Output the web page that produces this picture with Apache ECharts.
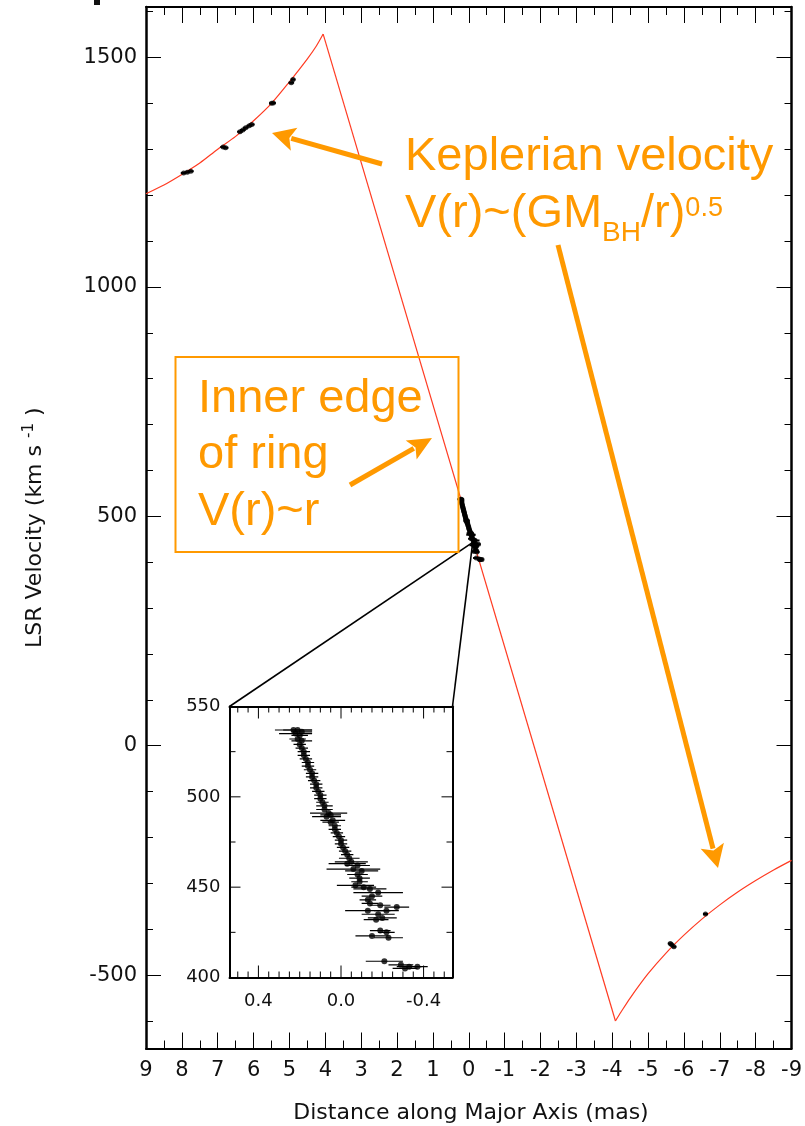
<!DOCTYPE html>
<html><head><meta charset="utf-8">
<script src="https://cdn.jsdelivr.net/npm/echarts@6/dist/echarts.min.js"></script>
<style>html,body{margin:0;padding:0;background:#fff}#c{width:805px;height:1126px}</style>
</head><body><div id="c"></div>
<script>
// ---------- data ----------
const leftX  = [9, 8.5, 8, 7.5, 7, 6.5, 6, 5.5, 5, 4.5, 4.25, 4.06];
const leftV  = [1203, 1222, 1245, 1270, 1300, 1328, 1362, 1400, 1447, 1497, 1525, 1551];
const innerX = [4.06, -4.09];
const innerV = [1551, -600];
const rightX = [-4.09, -4.25, -4.5, -5, -5.5, -6, -6.5, -7, -7.5, -8, -8.5, -9];
const rightV = [-600, -580, -550, -497, -452, -413, -378, -347, -319, -294, -271, -250];

const highX   = [7.95, 7.85, 7.75, 6.85, 6.78, 6.38, 6.3, 6.22, 6.12, 6.05, 5.5, 5.45, 4.95, 4.9];
const highV   = [1248, 1250, 1252, 1305, 1303, 1338, 1342, 1347, 1351, 1354, 1400, 1401, 1445, 1452];
const highErr = [0.08, 0.08, 0.08, 0.08, 0.08, 0.08, 0.08, 0.08, 0.08, 0.08, 0.07, 0.07, 0.08, 0.07];

const lowX   = [-5.72, -5.66, -5.62, -6.6];
const lowV   = [-438, -434, -431, -367];
const lowErr = [0.07, 0.07, 0.07, 0.07];

const sysX = [0.23,0.21,0.19,0.22,0.20,0.21,0.19,0.20,0.19,0.18,0.18,0.17,0.16,0.16,0.15,0.14,0.14,0.13,0.12,0.12,0.11,0.10,0.10,0.09,0.08,0.08,0.06,0.05,0.07,0.04,0.05,0.03,0.03,0.02,0.01,0.00,0.00,-0.01,-0.02,-0.03,-0.04,-0.05,-0.03,-0.08,-0.06,-0.10,-0.08,-0.09,-0.09,-0.07,-0.11,-0.14,-0.18,-0.15,-0.13,-0.14,-0.19,-0.27,-0.13,-0.22,-0.18,-0.20,-0.17,-0.19,-0.22,-0.15,-0.23,-0.21,-0.29,-0.33,-0.37,-0.31];
const sysV = [537,537,536,535,534,532,531,529,527,525,523,521,519,517,515,513,511,509,507,505,503,501,499,497,495,493,491,490,489,487,486,484,482,480,478,476,474,472,470,468,466,464,463,462,460,459,457,455,453,451,450,449,447,445,443,441,440,439,437,437,435,433,432,426,425,423,422,409,407,406,406,405];
const sysErr = [0.09,0.07,0.05,0.08,0.04,0.04,0.05,0.03,0.03,0.03,0.03,0.03,0.03,0.03,0.03,0.03,0.03,0.03,0.03,0.03,0.03,0.03,0.03,0.03,0.04,0.04,0.09,0.05,0.07,0.06,0.04,0.03,0.03,0.03,0.03,0.03,0.03,0.03,0.03,0.03,0.05,0.08,0.09,0.06,0.13,0.08,0.05,0.05,0.04,0.09,0.06,0.08,0.12,0.05,0.04,0.04,0.05,0.06,0.11,0.06,0.08,0.07,0.06,0.05,0.04,0.08,0.07,0.09,0.06,0.06,0.05,0.06];

const mainYLabels = [-500, 0, 500, 1000, 1500];
const mainYMinor  = [-600, -500, -400, -300, -200, -100, 0, 100, 200, 300, 400, 500, 600, 700, 800, 900, 1000, 1100, 1200, 1300, 1400, 1500, 1600];
const insetXLabels = [0.4, 0.0, -0.4];
const insetXMinor  = [-0.5,-0.45,-0.4,-0.35,-0.3,-0.25,-0.2,-0.15,-0.1,-0.05,0,0.05,0.1,0.15,0.2,0.25,0.3,0.35,0.4,0.45,0.5];
const insetYLabels = [400, 450, 500, 550];
const insetYMinor  = [400, 425, 450, 475, 500, 525, 550];

// ---------- helpers ----------
const zip = (a, b, c) => a.map((v, i) => c ? [v, b[i], c[i]] : [v, b[i]]);
const allX = highX.concat(sysX, lowX), allV = highV.concat(sysV, lowV), allE = highErr.concat(sysErr, lowErr);
const FONT = '"DejaVu Sans", sans-serif';
const AFONT = '"Liberation Sans", Arial, sans-serif';
const OR = '#ff9900';
const BLK = '#000';
const IX = [-0.54, 0.54], IY = [400, 550];

function errBars(xi, yi, data, w) {
  return {
    type: 'custom', xAxisIndex: xi, yAxisIndex: yi, data: data, clip: true, z: 3,
    renderItem: function (params, api) {
      const a = api.coord([api.value(0) - api.value(2), api.value(1)]);
      const b = api.coord([api.value(0) + api.value(2), api.value(1)]);
      return { type: 'line', shape: { x1: a[0], y1: a[1], x2: b[0], y2: b[1] }, style: { stroke: BLK, lineWidth: w } };
    }
  };
}
function valAxis(o) {
  return Object.assign({
    type: 'value', splitLine: { show: false },
    axisLine: { onZero: false, lineStyle: { color: BLK, width: 2 } },
    axisTick: { inside: true, lineStyle: { color: BLK, width: 1 } },
    axisLabel: { show: false, color: '#111', fontFamily: FONT }
  }, o);
}

const chart = echarts.init(document.getElementById('c'), null, { renderer: 'canvas' });

const mainX = (pos, lab) => valAxis({
  gridIndex: 0, position: pos, min: -9, max: 9, interval: 1, inverse: true,
  axisTick: { inside: true, length: 16, lineStyle: { color: BLK, width: 1 } },
  minorTick: { show: true, splitNumber: 2, length: 8, lineStyle: { color: BLK, width: 1 } },
  axisLabel: { show: lab, margin: 11, fontSize: 21, lineHeight: 22, color: '#111', fontFamily: FONT, formatter: v => String(v) }
});
const insX = (pos) => valAxis({
  gridIndex: 1, position: pos, min: IX[0], max: IX[1], inverse: true,
  axisLine: { show: true, onZero: false, lineStyle: { color: BLK, width: 2 } },
  axisTick: { show: false },
  axisLabel: { show: pos === 'bottom', customValues: insetXLabels, margin: 15, fontSize: 18, lineHeight: 18, color: '#111', fontFamily: FONT, formatter: v => v.toFixed(1) }
});
const mainY = (pos, major, lab) => valAxis({
  gridIndex: 0, position: pos, min: -660, max: 1610,
  axisLine: { show: major, onZero: false, lineStyle: { color: BLK, width: 2.5 } },
  axisTick: { inside: true, length: major ? 15 : 7, customValues: major ? mainYLabels : mainYMinor, lineStyle: { color: BLK, width: 1 } },
  axisLabel: { show: lab, customValues: mainYLabels, margin: 9, fontSize: 21, color: '#111', fontFamily: FONT, formatter: v => String(v) }
});
const insY = (pos) => valAxis({
  gridIndex: 1, position: pos, min: IY[0], max: IY[1], interval: 50,
  axisLine: { show: true, onZero: false, lineStyle: { color: BLK, width: 2 } },
  axisTick: { show: false },
  axisLabel: { show: pos === 'left', margin: 9, fontSize: 18, color: '#111', fontFamily: FONT, formatter: v => String(v) }
});

const option = {
  backgroundColor: '#fff',
  animation: false,
  grid: [
    { left: 146, top: 7, width: 650, height: 1041.5 },
    { left: 229.5, top: 706.5, width: 223, height: 271, show: false }
  ],
  xAxis: [mainX('bottom', true), mainX('top', false), insX('bottom'), insX('top')],
  yAxis: [mainY('left', true, true), mainY('left', false, false), mainY('right', true, false), mainY('right', false, false), insY('left'), insY('right')],
  series: [
    { type: 'line', xAxisIndex: 0, yAxisIndex: 0, data: zip(leftX, leftV), smooth: 0.3, showSymbol: false, lineStyle: { color: '#ff3b22', width: 1.2 }, z: 2 },
    { type: 'line', xAxisIndex: 0, yAxisIndex: 0, data: zip(innerX, innerV), showSymbol: false, lineStyle: { color: '#ff3b22', width: 1.2 }, z: 2 },
    { type: 'line', xAxisIndex: 0, yAxisIndex: 0, data: zip(rightX, rightV), smooth: 0.3, showSymbol: false, lineStyle: { color: '#ff3b22', width: 1.2 }, z: 2 },
    errBars(0, 0, zip(allX, allV, allE), 2),
    { type: 'scatter', xAxisIndex: 0, yAxisIndex: 0, data: zip(allX, allV), symbol: 'circle', symbolSize: 5, itemStyle: { color: BLK }, z: 4 },
    Object.assign(errBars(2, 4, zip(sysX, sysV, sysErr), 1.2), { z: 6 }),
    { type: 'scatter', xAxisIndex: 2, yAxisIndex: 4, data: zip(sysX, sysV), symbol: 'circle', symbolSize: 6, itemStyle: { color: BLK }, z: 7 }
  ]
};
chart.setOption(option);

// ---------- annotations ----------
const cv = document.createElement('canvas').getContext('2d');
function tw(t, s, f) { cv.font = s + 'px ' + f; return cv.measureText(t).width; }
function runs(x0, base, parts, fam, color) {
  let x = x0; const out = [];
  parts.forEach(p => {
    out.push({ type: 'text', x: x, y: base + (p.dy || 0) - 0.346 * p.s,
      style: { text: p.t, fontSize: p.s, fontFamily: fam, fill: color, align: 'left', verticalAlign: 'middle' } });
    x += tw(p.t, p.s, fam);
  });
  return out;
}
function arrow(x1, y1, x2, y2, w, hl, hw) {
  const dx = x2 - x1, dy = y2 - y1, L = Math.hypot(dx, dy), ux = dx / L, uy = dy / L, px = -uy, py = ux;
  const bx = x2 - ux * hl, by = y2 - uy * hl;
  return [
    { type: 'line', shape: { x1: x1, y1: y1, x2: bx + ux * 3, y2: by + uy * 3 }, style: { stroke: OR, lineWidth: w } },
    { type: 'polygon', shape: { points: [[x2, y2], [bx + px * hw / 2, by + py * hw / 2], [bx + ux * 5, by + uy * 5], [bx - px * hw / 2, by - py * hw / 2]] }, style: { fill: OR } }
  ];
}
const toInset = (x, y) => chart.convertToPixel({ xAxisIndex: 2, yAxisIndex: 4 }, [x, y]);

const apex = chart.convertToPixel({ xAxisIndex: 0, yAxisIndex: 0 }, [-0.11, 443]);
const cL = toInset(IX[1], IY[1]);
const cR = toInset(IX[0], IY[1]);

let els = [];
els.push({ type: 'rect', shape: { x: 94, y: 0, width: 6, height: 5 }, style: { fill: '#111' } });
els.push({ type: 'line', shape: { x1: cL[0], y1: cL[1], x2: apex[0], y2: apex[1] }, style: { stroke: BLK, lineWidth: 1.6 } });
els.push({ type: 'line', shape: { x1: cR[0], y1: cR[1], x2: apex[0], y2: apex[1] }, style: { stroke: BLK, lineWidth: 1.6 } });
// inset tick marks on all four sides, positioned through the inset axes
const tk = { stroke: BLK, lineWidth: 1 };
insetXMinor.forEach(v => {
  const len = insetXLabels.indexOf(v) >= 0 ? 12 : 6;
  const b = toInset(v, IY[0]), t = toInset(v, IY[1]);
  els.push({ type: 'line', shape: { x1: b[0], y1: b[1], x2: b[0], y2: b[1] - len }, style: tk });
  els.push({ type: 'line', shape: { x1: t[0], y1: t[1], x2: t[0], y2: t[1] + len }, style: tk });
});
insetYMinor.forEach(v => {
  const len = insetYLabels.indexOf(v) >= 0 ? 11 : 6;
  const l = toInset(IX[1], v), r = toInset(IX[0], v);
  els.push({ type: 'line', shape: { x1: l[0], y1: l[1], x2: l[0] + len, y2: l[1] }, style: tk });
  els.push({ type: 'line', shape: { x1: r[0], y1: r[1], x2: r[0] - len, y2: r[1] }, style: tk });
});
els = els.concat(runs(405, 173, [{ t: 'Keplerian velocity', s: 47 }], AFONT, OR));
els = els.concat(runs(405, 230, [{ t: 'V(r)~(GM', s: 47 }, { t: 'BH', s: 28, dy: 13 }, { t: '/r)', s: 47 }, { t: '0.5', s: 27, dy: -12 }], AFONT, OR));
els.push({ type: 'rect', shape: { x: 175.5, y: 357, width: 283, height: 195 }, style: { fill: null, stroke: OR, lineWidth: 2 } });
els = els.concat(runs(198, 415, [{ t: 'Inner edge', s: 47 }], AFONT, OR));
els = els.concat(runs(198, 471, [{ t: 'of ring', s: 47 }], AFONT, OR));
els = els.concat(runs(198, 528, [{ t: 'V(r)~r', s: 47 }], AFONT, OR));
els = els.concat(arrow(382, 164, 272, 133, 5, 23, 24));
els = els.concat(arrow(350, 485, 432, 438, 5, 24, 22));
els = els.concat(arrow(558, 245, 718, 868, 5, 23, 24));
// axis titles
els.push({ type: 'text', x: 471, y: 1121 - 0.346 * 22, style: { text: 'Distance along Major Axis (mas)', fontSize: 22, fontFamily: FONT, fill: '#111', align: 'center', verticalAlign: 'middle' } });
els.push({ type: 'group', x: 43, y: 648, rotation: Math.PI / 2,
  children: runs(0, 0, [{ t: 'LSR Velocity (km s ', s: 22 }, { t: '-1', s: 15, dy: -9 }, { t: ' )', s: 22 }], FONT, '#111') });

chart.setOption({ graphic: { elements: els.map(e => Object.assign({ z: 100 }, e)) } });
</script></body></html>
